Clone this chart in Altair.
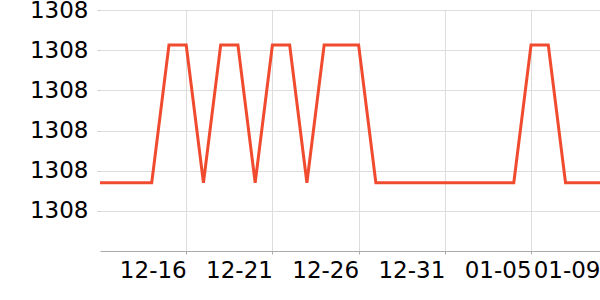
import altair as alt
import pandas as pd

dates = pd.date_range("2023-12-11", "2024-01-09", freq="D").strftime("%Y-%m-%d").tolist()
LOW = 1307.957
HIGH = 1307.9913
levels = ["L", "L", "L", "L", "H", "H", "L", "H", "H", "L",
          "H", "H", "L", "H", "H", "H", "L", "L", "L", "L",
          "L", "L", "L", "L", "L", "H", "H", "L", "L", "L"]
values = [HIGH if v == "H" else LOW for v in levels]
tick_dates = [(2023, 12, 16), (2023, 12, 21), (2023, 12, 26), (2023, 12, 31), (2024, 1, 5), (2024, 1, 9)]
y_ticks = [1307.95, 1307.96, 1307.97, 1307.98, 1307.99, 1308.00]

df = pd.DataFrame({"date": dates, "value": values})

chart = alt.Chart(df).mark_line(color="#f04b2f", strokeWidth=3, clip=False).encode(
    x=alt.X("date:T", scale=alt.Scale(type="utc", nice=False),
            axis=alt.Axis(title=None, format="%m-%d",
                          values=[alt.DateTime(year=y, month=m, date=d, utc=True) for y, m, d in tick_dates],
                          labelAlign="right", labelFontSize=23, labelFont="DejaVu Sans",
                          labelColor="#000", labelPadding=5, tickSize=3, tickColor="#aaa",
                          domainColor="#aaa", gridColor="#ddd", labelOverlap=False, labelFlush=False)),
    y=alt.Y("value:Q", scale=alt.Scale(domain=[1307.94, 1308.0], nice=False, zero=False),
            axis=alt.Axis(title=None, values=y_ticks, format=".0f", labelFontSize=23,
                          labelFont="DejaVu Sans", labelColor="#000", labelPadding=9,
                          tickSize=3, tickColor="#ccc", domain=False, gridColor="#ddd")),
).properties(
    width=500, height=241, autosize=alt.AutoSizeParams(type="none"),
    padding={"left": 100, "top": 10, "right": 0, "bottom": 49},
).configure_view(stroke=None)

chart.save("out.html", embed_options={"renderer": "svg", "actions": False})
